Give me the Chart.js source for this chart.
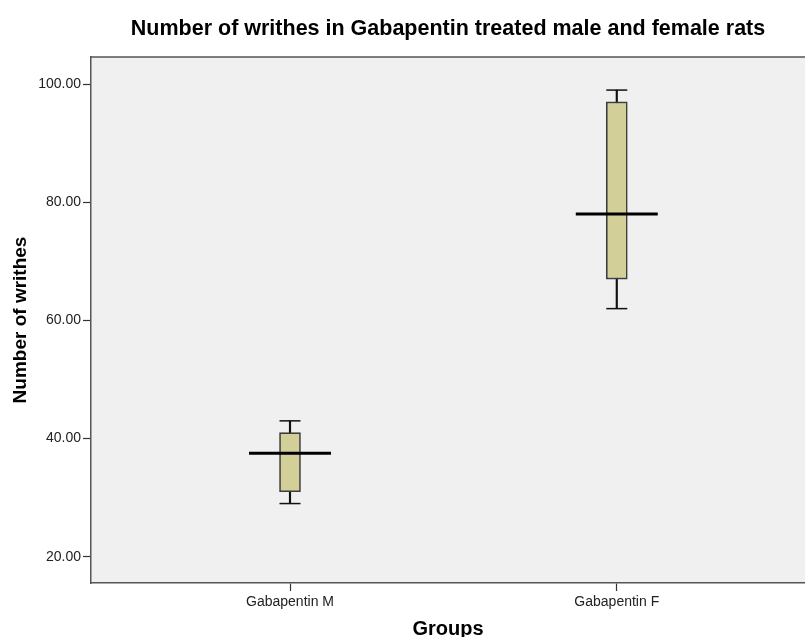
<!DOCTYPE html>
<html>
<head>
<meta charset="utf-8">
<script src="https://cdn.jsdelivr.net/npm/chart.js@4.4.1/dist/chart.umd.min.js"></script>
<style>
  html, body { margin: 0; padding: 0; background: #fff; }
  #wrap { width: 805px; height: 637px; }
</style>
</head>
<body>
<div id="wrap"><canvas id="chart"></canvas></div>
<script>
// box plot values
const groups = ['Gabapentin M', 'Gabapentin F'];
const whiskerLow = [29, 62];
const q1 = [31, 67];
const median = [37.5, 78];
const q3 = [41, 97];
const whiskerHigh = [43, 99];
const yTicks = [20, 40, 60, 80, 100];

const FONT = "'Liberation Sans', Arial, sans-serif";

// grey plot background + top frame line
const plotFrame = {
    id: 'plotFrame',
    beforeDraw(chart) {
        const { ctx, chartArea: a } = chart;
        ctx.save();
        ctx.fillStyle = '#f0f0f0';
        ctx.fillRect(a.left, a.top, a.right - a.left, a.bottom - a.top);
        ctx.strokeStyle = '#555';
        ctx.lineWidth = 1.5;
        ctx.beginPath();
        ctx.moveTo(a.left, a.top);
        ctx.lineTo(a.right, a.top);
        ctx.stroke();
        ctx.restore();
    }
};

const idx = groups.map((g, i) => i);

new Chart(document.getElementById('chart'), {
    type: 'bar',
    data: {
        datasets: [
            {
                // median line
                type: 'scatter',
                data: idx.map(i => ({ x: i, y: median[i] })),
                pointStyle: 'line',
                pointRadius: 41,
                borderColor: '#000',
                borderWidth: 3
            },
            {
                // box
                data: idx.map(i => ({ x: i, y: [q1[i], q3[i]] })),
                backgroundColor: '#d3cf98',
                borderColor: '#3c3c3c',
                borderWidth: 1.6,
                borderSkipped: false,
                barThickness: 21,
                grouped: false
            },
            {
                // whisker stem
                data: idx.map(i => ({ x: i, y: [whiskerLow[i], whiskerHigh[i]] })),
                backgroundColor: '#111',
                borderWidth: 0,
                barThickness: 1.5,
                grouped: false
            },
            {
                // whisker caps
                type: 'scatter',
                data: idx.flatMap(i => [{ x: i, y: whiskerLow[i] }, { x: i, y: whiskerHigh[i] }]),
                pointStyle: 'line',
                pointRadius: 10.5,
                borderColor: '#111',
                borderWidth: 1.5
            }
        ]
    },
    options: {
        responsive: true,
        maintainAspectRatio: false,
        animation: false,
        layout: { padding: 0, autoPadding: false },
        plugins: {
            legend: { display: false },
            tooltip: { enabled: false },
            title: {
                display: true,
                fullSize: false,
                text: 'Number of writhes in Gabapentin treated male and female rats',
                color: '#000',
                font: { family: FONT, size: 21.5, weight: 'bold', lineHeight: 1.2 },
                padding: { top: 16, bottom: 15.2 }
            }
        },
        scales: {
            x: {
                type: 'linear',
                offset: false,
                min: -0.609,
                max: 1.576,
                afterFit: s => { s.height = 54; },
                afterBuildTicks: s => { s.ticks = idx.map(v => ({ value: v })); },
                ticks: {
                    callback: v => groups[v],
                    color: '#222',
                    font: { family: FONT, size: 14 },
                    padding: 3,
                    maxRotation: 0
                },
                grid: { offset: false, drawOnChartArea: false, drawTicks: true, tickLength: 8, tickColor: '#333', tickWidth: 1.2 },
                border: { display: true, color: '#555', width: 1.5 },
                title: {
                    display: true,
                    text: 'Groups',
                    color: '#000',
                    font: { family: FONT, size: 20, weight: 'bold', lineHeight: 0.8 },
                    padding: { top: 0, bottom: 0 }
                }
            },
            y: {
                min: 15.55,
                max: 104.6,
                afterFit: s => { s.width = 91; },
                afterBuildTicks: s => { s.ticks = yTicks.map(v => ({ value: v })); },
                ticks: {
                    callback: v => v.toFixed(2),
                    color: '#222',
                    font: { family: FONT, size: 14 },
                    padding: 2
                },
                grid: { drawOnChartArea: false, drawTicks: true, tickLength: 8, tickColor: '#333', tickWidth: 1.2 },
                border: { display: true, color: '#555', width: 1.5 },
                title: {
                    display: true,
                    text: 'Number of writhes',
                    color: '#000',
                    font: { family: FONT, size: 19, weight: 'bold', lineHeight: 1.2 },
                    padding: { top: 9.5, bottom: 0 }
                }
            }
        }
    },
    plugins: [plotFrame]
});
</script>
</body>
</html>
